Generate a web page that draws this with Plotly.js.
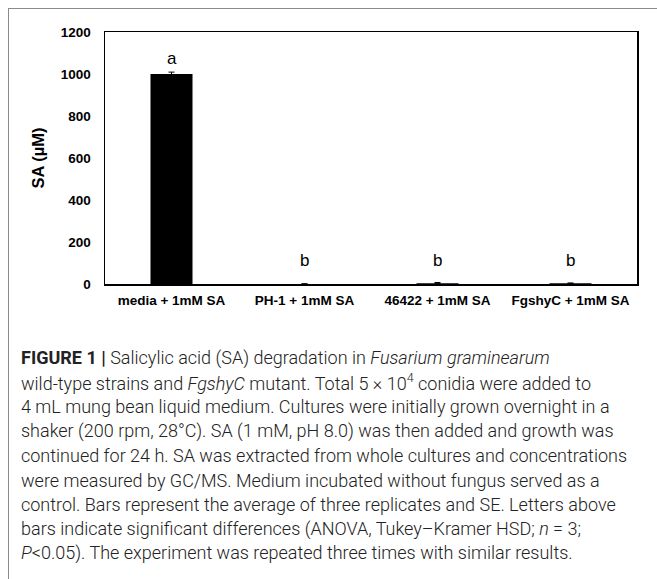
<!DOCTYPE html>
<html>
<head>
<meta charset="utf-8">
<script src="https://cdn.plot.ly/plotly-3.0.1.min.js"></script>
<style>html,body{margin:0;padding:0;background:#fff;}#chart{width:657px;height:579px;}</style>
</head>
<body>
<div id="chart"></div>
<script>
const categories = ["media + 1mM SA", "PH-1 + 1mM SA", "46422 + 1mM SA", "FgshyC + 1mM SA"];
const saValues = [1000, 0.5, 4, 3];
const saErrors = [9, 0.5, 3, 2];
const letters = ["a", "b", "b", "b"];
const letterY = [1076, 114, 114, 114];
const yTicks = [0, 200, 400, 600, 800, 1000, 1200];
const captionLines = [
  "<b>FIGURE 1 |</b> Salicylic acid (SA) degradation in <i>Fusarium graminearum</i>",
  "wild-type strains and <i>FgshyC</i> mutant. Total 5 × 10<sup>4</sup> conidia were added to",
  "4 mL mung bean liquid medium. Cultures were initially grown overnight in a",
  "shaker (200 rpm, 28°C). SA (1 mM, pH 8.0) was then added and growth was",
  "continued for 24 h. SA was extracted from whole cultures and concentrations",
  "were measured by GC/MS. Medium incubated without fungus served as a",
  "control. Bars represent the average of three replicates and SE. Letters above",
  "bars indicate significant differences (ANOVA, Tukey–Kramer HSD; <i>n</i> = 3;",
  "<i>P</i><0.05). The experiment was repeated three times with similar results."
];

const W = 657, H = 579;
const L = 105, R = 637, T = 32, B = 284;
const px2x = p => (p - L) / (R - L);
const px2y = p => (B - p) / (B - T);

const annotations = [];
categories.forEach((c, i) => {
  annotations.push({
    x: c, y: letterY[i], xref: 'x', yref: 'y', text: letters[i], showarrow: false,
    font: {family: 'Liberation Sans, Arial, sans-serif', size: 17, color: '#000'},
    xanchor: 'center', yanchor: 'middle'
  });
});
const lineStart = 358, lineStep = 24.4;
captionLines.forEach((t, i) => {
  annotations.push({
    x: px2x(19), y: px2y(lineStart + i * lineStep), xref: 'paper', yref: 'paper',
    text: t, showarrow: false, xanchor: 'left', yanchor: 'middle', align: 'left',
    font: {family: 'Roboto, Arial, sans-serif', size: 18, weight: 300, color: '#222'}
  });
});

const trace = {
  type: 'bar', x: categories, y: saValues,
  marker: {color: '#000', line: {width: 0}},
  error_y: {type: 'data', array: saErrors, visible: true, color: '#000', thickness: 1, width: 3},
  hoverinfo: 'none'
};

const layout = {
  width: W, height: H,
  margin: {l: L, r: W - R, t: T, b: H - B, pad: 0},
  paper_bgcolor: '#fff', plot_bgcolor: '#fff',
  showlegend: false,
  bargap: 0.684,
  font: {family: 'Liberation Sans, Arial, sans-serif', color: '#000'},
  xaxis: {
    type: 'category', showgrid: false, zeroline: false,
    showline: true, linecolor: '#000', linewidth: 1.5, mirror: true,
    ticks: '', tickfont: {size: 13.5, weight: 'bold', color: '#000'},
    ticklabelstandoff: 3, fixedrange: true
  },
  yaxis: {
    range: [0, 1200], tickvals: yTicks, ticktext: yTicks.map(String),
    showgrid: false, zeroline: false,
    showline: true, linecolor: '#000', linewidth: 1.5, mirror: true,
    ticks: '', tickfont: {size: 13.5, weight: 'bold', color: '#000'},
    ticklabelstandoff: 10,
    title: {text: 'SA (µM)', font: {size: 16.5, weight: 'bold', color: '#000'}, standoff: 12},
    automargin: false, fixedrange: true
  },
  shapes: [
    {type: 'line', xref: 'paper', yref: 'paper', x0: px2x(8), x1: px2x(660), y0: px2y(8.5), y1: px2y(8.5), line: {color: '#8a8a8a', width: 1}},
    {type: 'line', xref: 'paper', yref: 'paper', x0: px2x(8.5), x1: px2x(8.5), y0: px2y(8), y1: px2y(600), line: {color: '#8a8a8a', width: 1}}
  ],
  annotations: annotations
};

Plotly.newPlot('chart', [trace], layout, {displayModeBar: false, staticPlot: true});
</script>
</body>
</html>
